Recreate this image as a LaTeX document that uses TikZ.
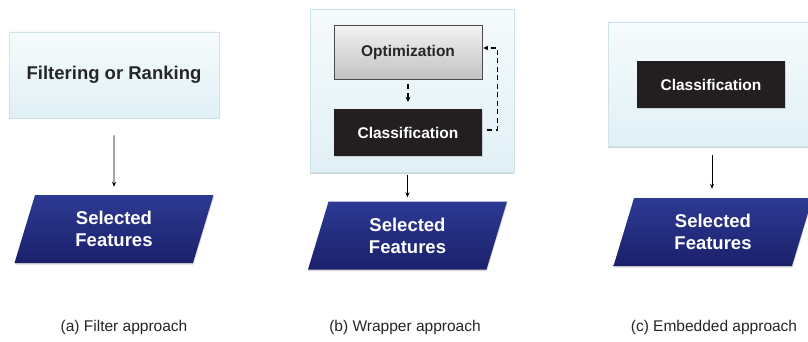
\documentclass[tikz,border=0pt]{standalone}
\usepackage{fontspec}
\setmainfont{Liberation Sans}
\usetikzlibrary{calc,shapes.geometric,shadows,arrows.meta}

\definecolor{panelTop}{HTML}{F6FBFC}
\definecolor{panelBot}{HTML}{E1F0F6}
\definecolor{panelEdge}{HTML}{CFE2E8}
\definecolor{optTop}{HTML}{F3F3F3}
\definecolor{optBot}{HTML}{C2C2C2}
\definecolor{clsFill}{HTML}{231F20}
\definecolor{selTop}{HTML}{2D3A93}
\definecolor{selBot}{HTML}{1B206B}
\definecolor{txtGray}{HTML}{262626}

\begin{document}
\begin{tikzpicture}[x=1pt, y=-1pt]
%styles
\tikzstyle{panel}=[rectangle, draw=panelEdge, line width=0.6pt, top color=panelTop, bottom color=panelBot, drop shadow={shadow xshift=0pt, shadow yshift=-1.5pt, opacity=0.35}]
\tikzstyle{optbox}=[rectangle, draw=black!70, line width=0.6pt, top color=optTop, bottom color=optBot, text=txtGray, font=\fontsize{15.5}{18}\selectfont\bfseries, minimum width=148pt, minimum height=54pt]
\tikzstyle{clsbox}=[rectangle, fill=clsFill, text=white, font=\fontsize{15.5}{18}\selectfont\bfseries, minimum width=148pt, minimum height=47pt, drop shadow={shadow xshift=0.5pt, shadow yshift=-1pt, opacity=0.3}]
\tikzstyle{selbox}=[trapezium, trapezium left angle=60, trapezium right angle=120, trapezium stretches body, top color=selTop, bottom color=selBot, text=white, align=center, font=\fontsize{18.5}{22}\selectfont\bfseries, minimum width=199pt, minimum height=68pt, inner sep=0pt, drop shadow={shadow xshift=0.5pt, shadow yshift=-1.5pt, opacity=0.3}]
\tikzstyle{caption}=[text=txtGray, font=\fontsize{15.5}{18}\selectfont]
\tikzstyle{vector}=[-{Stealth[length=5pt,width=4pt]}, line width=0.9pt]
\tikzstyle{dashvec}=[-{Stealth[length=5pt,width=5pt,line width=0pt]}, line width=1.3pt, dash pattern=on 5pt off 3.5pt]

\useasboundingbox (0,0) rectangle (808,342);
\clip (0,0) rectangle (808,342);

%(a) filter
\node[panel, minimum width=210pt, minimum height=86pt, text=txtGray, font=\fontsize{18.5}{22}\selectfont\bfseries] (filt) at (114,75) {Filtering or Ranking};
\node[selbox] (selA) at (114,229) {Selected\\Features};
\draw[vector, shorten <=17pt, shorten >=8pt] (filt.south) -- (selA.north);

%(b) wrapper
\node[panel, minimum width=204pt, minimum height=163pt] (wrap) at (412,90.5) {};
\node[optbox] (opt) at (408,52) {Optimization};
\node[clsbox] (clsB) at (408,132.5) {Classification};
\draw[dashvec, shorten <=5pt, shorten >=7pt] (opt.south) -- (clsB.north);
\draw[dashvec] ([xshift=5pt, yshift=2.5pt]clsB.east) -- ++(10,0) |- ([xshift=1pt, yshift=4pt]opt.east);
\node[selbox] (selB) at (407.5,235.5) {Selected\\Features};
\draw[vector, shorten <=3pt, shorten >=4pt] (wrap.south -| selB.north) -- (selB.north);

%(c) embedded
\node[panel, minimum width=210pt, minimum height=124pt] (emb) at (713,84) {};
\node[clsbox] (clsC) at (711,84.5) {Classification};
\node[selbox] (selC) at (713,232) {Selected\\Features};
\draw[vector, shorten <=9pt, shorten >=9pt] (emb.south -| 712,0) -- (selC.north -| 712,0);

%captions
\node[caption] (capA) at (124,327) {(a) Filter approach};
\node[caption] (capB) at (405,327) {(b) Wrapper approach};
\node[caption] (capC) at (714,327) {(c) Embedded approach};
\end{tikzpicture}
\end{document}
